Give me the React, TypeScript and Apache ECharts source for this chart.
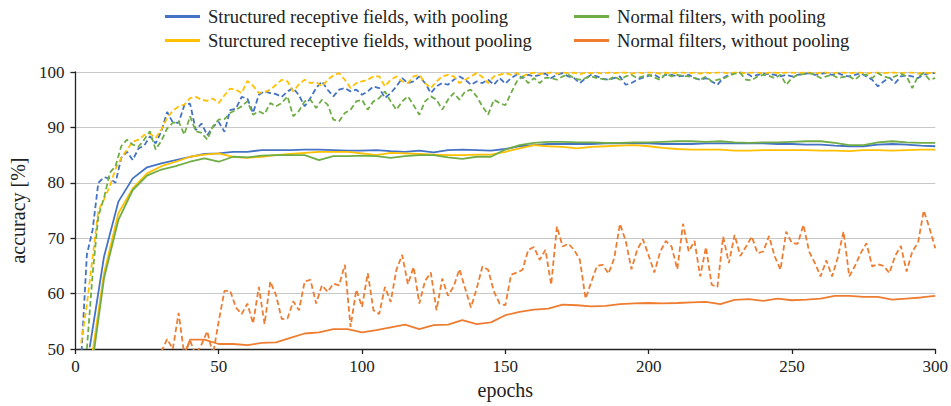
import React, { useEffect, useRef } from "react";
import * as echarts from "echarts";

// x positions: test accuracy every 5 epochs, train accuracy every 2 epochs
const testEpochs = [
  0, 5, 10, 15, 20, 25, 30, 35, 40, 45,
  50, 55, 60, 65, 70, 75, 80, 85, 90, 95,
  100, 105, 110, 115, 120, 125, 130, 135, 140, 145,
  150, 155, 160, 165, 170, 175, 180, 185, 190, 195,
  200, 205, 210, 215, 220, 225, 230, 235, 240, 245,
  250, 255, 260, 265, 270, 275, 280, 285, 290, 295,
  300,
];
const trainEpochs = Array.from({ length: 151 }, (_, i) => i * 2);

const legendNames = [
  "Structured receptive fields, with pooling",
  "Sturctured receptive fields, without pooling",
  "Normal filters, with pooling",
  "Normal filters, without pooling",
];

// solid lines (sampled every 5 epochs)
const blueSolid = [
  null, 50.3, 66.7, 76.6, 80.8, 82.8, 83.5, 84.1, 84.7, 85.2,
  85.3, 85.6, 85.6, 85.9, 85.9, 85.9, 86.0, 86.0, 85.9, 85.8,
  85.8, 85.9, 85.7, 85.6, 85.8, 85.5, 85.9, 86.0, 85.9, 85.8,
  86.1, 86.6, 86.8, 87.0, 87.0, 87.0, 87.0, 87.1, 87.1, 87.1,
  87.1, 87.0, 87.0, 87.0, 87.1, 87.1, 87.1, 87.1, 87.1, 87.0,
  87.0, 86.9, 86.9, 86.7, 86.6, 86.6, 86.9, 87.0, 86.9, 86.7,
  86.6,
];
const yellowSolid = [
  null, 46.0, 63.7, 74.5, 79.0, 81.7, 83.0, 83.8, 84.7, 85.1,
  85.3, 84.7, 84.5, 84.7, 85.0, 85.2, 85.4, 85.6, 85.6, 85.6,
  85.3, 85.0, 85.4, 85.3, 85.2, 85.1, 85.0, 85.0, 85.1, 85.1,
  85.6, 86.2, 86.8, 86.6, 86.5, 86.2, 86.5, 86.6, 86.7, 86.8,
  86.6, 86.3, 86.1, 86.0, 86.0, 86.0, 85.8, 85.8, 85.9, 85.9,
  85.9, 85.9, 85.8, 85.8, 85.7, 85.9, 85.9, 85.8, 85.9, 86.0,
  86.0,
];
const greenSolid = [
  null, 44.0, 62.8, 73.3, 78.7, 81.3, 82.4, 83.0, 83.8, 84.4,
  83.8, 84.7, 84.6, 84.9, 85.0, 85.0, 85.0, 84.1, 84.8, 84.8,
  84.9, 84.8, 84.5, 84.8, 85.0, 85.0, 84.6, 84.3, 84.7, 84.7,
  86.0, 86.8, 87.2, 87.4, 87.4, 87.3, 87.3, 87.2, 87.2, 87.3,
  87.3, 87.4, 87.5, 87.5, 87.4, 87.5, 87.3, 87.2, 87.3, 87.3,
  87.4, 87.5, 87.5, 87.2, 86.8, 86.8, 87.3, 87.5, 87.3, 87.2,
  87.2,
];
const orangeSolid = [
  null, null, null, null, null, null, null, 45.0, 51.7, 51.7,
  50.9, 50.9, 50.7, 51.1, 51.2, 52.0, 52.8, 53.0, 53.6, 53.6,
  53.0, 53.4, 53.9, 54.4, 53.6, 54.3, 54.4, 55.2, 54.5, 54.8,
  56.1, 56.7, 57.1, 57.3, 58.0, 57.9, 57.7, 57.8, 58.1, 58.25,
  58.3, 58.25, 58.3, 58.4, 58.5, 58.1, 58.85, 59.0, 58.7, 59.1,
  58.8, 58.9, 59.1, 59.6, 59.6, 59.4, 59.4, 58.9, 59.1, 59.3,
  59.6,
];

// dashed lines (sampled every 2 epochs)
const blueDashed = [
  null, 48.0, 67.0, 71.5, 80.0, 81.0, 80.8, 80.0, 84.5, 85.6,
  84.1, 86.2, 86.7, 88.4, 87.1, 89.3, 92.8, 90.9, 90.8, 94.0,
  94.3, 89.5, 90.7, 88.6, 90.1, 91.0, 89.2, 93.1, 93.4, 95.5,
  95.2, 92.6, 95.9, 96.5, 96.2, 96.0, 95.5, 96.5, 97.1, 95.8,
  93.8, 95.3, 97.1, 98.3, 96.8, 95.6, 96.8, 97.1, 96.5, 96.8,
  95.9, 96.5, 97.4, 97.1, 95.3, 96.2, 97.4, 98.9, 98.0, 98.3,
  99.2, 98.0, 96.2, 97.4, 98.0, 97.7, 98.6, 99.2, 98.6, 97.7,
  98.3, 98.0, 98.6, 97.7, 98.9, 97.9, 98.9, 99.5, 98.9, 99.5,
  99.2, 99.5, 99.7, 98.9, 99.5, 99.8, 99.2, 98.9, 98.0, 98.9,
  99.5, 99.2, 98.8, 98.6, 98.9, 99.2, 97.7, 98.0, 98.6, 99.0,
  99.3, 99.5, 98.9, 99.5, 99.5, 99.2, 99.3, 99.5, 98.9, 98.6,
  98.9, 98.3, 97.7, 98.9, 99.5, 99.8, 99.9, 99.8, 99.2, 99.5,
  99.7, 99.6, 99.5, 99.2, 99.5, 99.2, 99.5, 99.6, 99.8, 99.5,
  99.7, 99.8, 99.5, 99.8, 99.4, 99.2, 99.5, 99.8, 99.2, 98.6,
  97.4, 98.3, 99.0, 98.0, 99.2, 99.4, 99.2, 98.9, 99.5, 99.8,
  99.8,
];
const yellowDashed = [
  null, 51.0, 58.0, 66.5, 75.0, 77.0, 79.4, 82.5, 84.5, 86.0,
  87.4, 87.8, 88.6, 88.9, 88.1, 89.6, 91.7, 93.0, 93.8, 94.1,
  95.3, 95.5, 95.0, 94.8, 95.2, 94.4, 95.8, 97.0, 96.8, 96.2,
  98.4, 97.5, 96.2, 96.4, 96.8, 97.7, 98.6, 98.3, 96.5, 97.8,
  98.6, 98.0, 98.2, 97.4, 98.6, 99.4, 99.8, 98.6, 97.1, 98.0,
  98.3, 98.6, 99.2, 99.2, 97.4, 98.6, 99.2, 98.3, 98.0, 99.2,
  99.5, 98.0, 97.1, 98.3, 99.2, 99.5, 99.2, 98.0, 98.6, 99.2,
  99.8, 99.1, 98.0, 99.2, 99.5, 99.8, 99.5, 99.8, 99.2, 99.7,
  99.9, 99.6, 99.8, 99.9, 99.7, 99.9, 99.8, 99.9, 99.6, 99.9,
  99.8, 99.9, 99.7, 99.9, 99.8, 99.9, 99.9, 99.7, 99.9, 99.8,
  99.9, 99.9, 99.7, 99.9, 99.8, 99.9, 99.9, 99.8, 99.9, 99.7,
  99.9, 99.8, 99.9, 99.9, 99.8, 99.9, 99.9, 99.8, 99.9, 99.9,
  99.7, 99.9, 99.9, 99.8, 99.9, 99.9, 99.8, 99.9, 99.9, 99.7,
  99.9, 99.9, 99.8, 99.9, 99.9, 99.8, 99.9, 99.9, 99.7, 99.9,
  99.9, 99.8, 99.9, 99.9, 99.8, 99.9, 99.9, 99.7, 99.9, 99.8,
  99.9,
];
const greenDashed = [
  null, null, 50.0, 63.5, 74.0, 77.3, 81.8, 83.0, 86.6, 87.8,
  86.9, 86.5, 87.8, 89.3, 86.0, 87.6, 89.8, 90.8, 91.1, 88.7,
  92.0, 89.3, 89.0, 87.8, 90.2, 91.4, 91.5, 92.6, 93.2, 93.8,
  94.7, 92.3, 92.9, 92.4, 94.4, 93.8, 94.4, 95.6, 92.0, 93.0,
  94.7, 95.0, 93.5, 95.0, 94.1, 91.4, 91.1, 92.6, 93.2, 94.7,
  95.0, 93.2, 94.7, 95.3, 96.5, 94.7, 93.2, 94.7, 95.6, 94.0,
  92.3, 94.7, 95.6, 95.0, 93.2, 95.0, 96.2, 95.0, 96.5, 96.8,
  95.6, 93.8, 92.3, 95.0, 94.4, 94.0, 96.2, 98.3, 99.2, 98.0,
  98.9, 98.0, 99.0, 98.9, 98.6, 99.2, 99.5, 98.9, 98.6, 98.9,
  99.2, 98.9, 98.7, 98.6, 99.2, 98.6, 99.2, 99.5, 98.9, 99.2,
  99.5, 99.0, 98.6, 99.7, 99.2, 99.5, 99.3, 99.2, 98.9, 98.6,
  99.2, 98.3, 98.6, 98.8, 99.3, 99.7, 99.8, 98.6, 98.5, 99.2,
  99.5, 99.3, 98.9, 99.5, 97.7, 98.9, 99.5, 99.6, 99.8, 99.5,
  98.9, 99.2, 99.5, 98.9, 99.1, 99.2, 98.6, 99.5, 99.5, 98.9,
  99.8, 99.2, 98.9, 99.2, 99.7, 99.2, 97.1, 99.2, 99.8, 98.6,
  98.9,
];
const orangeDashed = [
  null, null, null, null, null, null, null, null, null, null,
  null, null, null, null, null, 49.5, 51.8, 50.0, 56.5, 49.0,
  51.5, 49.0, 50.8, 53.2, 49.0, 55.0, 60.5, 60.5, 57.5, 56.3,
  58.2, 54.6, 61.2, 54.5, 62.2, 59.7, 55.4, 55.5, 58.6, 57.0,
  62.2, 62.5, 58.2, 61.5, 60.3, 61.8, 61.5, 65.2, 54.0, 60.7,
  57.6, 63.7, 57.0, 56.3, 61.2, 58.5, 64.3, 67.0, 61.7, 64.8,
  58.2, 62.3, 63.8, 57.0, 62.7, 59.6, 61.3, 64.4, 60.9, 57.5,
  60.9, 64.9, 64.3, 60.4, 58.2, 57.9, 63.4, 63.8, 64.3, 67.9,
  68.4, 66.1, 67.9, 61.6, 72.1, 68.5, 69.0, 67.9, 66.1, 59.1,
  62.1, 65.0, 65.2, 63.6, 66.4, 72.6, 69.5, 64.4, 67.9, 69.8,
  66.9, 63.8, 67.5, 69.5, 68.5, 64.4, 72.6, 67.6, 69.5, 63.1,
  68.4, 61.6, 61.2, 70.3, 65.5, 70.6, 66.8, 68.5, 70.3, 67.3,
  67.6, 70.4, 66.7, 64.3, 71.2, 69.1, 69.0, 72.4, 67.6, 65.5,
  63.1, 66.0, 63.1, 66.5, 71.2, 63.1, 65.0, 67.3, 69.1, 64.9,
  65.3, 65.0, 63.7, 66.8, 68.6, 64.0, 67.6, 69.2, 75.0, 71.8,
  68.2,
];

const yTicks = [50, 60, 70, 80, 90, 100];
const xTicks = [0, 50, 100, 150, 200, 250, 300];

const colors = ["#4472C4", "#FFC000", "#70AD47", "#ED7D31"];
const FONT = "Liberation Serif";

function pairs(xs: number[], ys: (number | null)[]) {
  const out: number[][] = [];
  ys.forEach((v, i) => {
    if (v !== null && v !== undefined) out.push([xs[i], v]);
  });
  return out;
}

export default function App() {
  const ref = useRef<HTMLDivElement>(null);
  useEffect(() => {
    if (!ref.current) return;
    const chart = echarts.init(ref.current, null, { renderer: "svg" });
    const solids = [blueSolid, yellowSolid, greenSolid, orangeSolid];
    const dashes = [blueDashed, yellowDashed, greenDashed, orangeDashed];
    const series: any[] = [];
    for (let k = 0; k < 4; k++) {
      series.push({
        name: legendNames[k],
        type: "line",
        data: pairs(testEpochs, solids[k]),
        showSymbol: false,
        symbol: "none",
        color: colors[k],
        lineStyle: { color: colors[k], width: 1.8 },
        clip: true,
        z: 2,
      });
      series.push({
        name: legendNames[k] + " (train)",
        type: "line",
        data: pairs(trainEpochs, dashes[k]),
        showSymbol: false,
        symbol: "none",
        color: colors[k],
        lineStyle: { color: colors[k], width: 1.8, type: [5.5, 3] },
        clip: true,
        z: 2,
      });
    }
    const legendBase = {
      orient: "vertical",
      top: 2,
      icon: "rect",
      itemWidth: 35,
      itemHeight: 3,
      itemGap: 5,
      selectedMode: false,
      textStyle: {
        fontFamily: FONT,
        fontSize: 18.6,
        color: "#222",
        lineHeight: 18,
        padding: [0, 0, 0, 3],
      },
    };
    const tickLabel = {
      fontFamily: FONT,
      fontSize: 17,
      color: "#222",
    };
    chart.setOption({
      animation: false,
      backgroundColor: "#fff",
      textStyle: { fontFamily: FONT },
      grid: { left: 75, right: 15, top: 72, bottom: 57, containLabel: false },
      legend: [
        { ...legendBase, left: 160, data: [legendNames[0], legendNames[1]] },
        { ...legendBase, left: 569, data: [legendNames[2], legendNames[3]] },
      ],
      xAxis: {
        type: "value",
        min: xTicks[0],
        max: xTicks[xTicks.length - 1],
        interval: 50,
        name: "epochs",
        nameLocation: "middle",
        nameGap: 31,
        nameTextStyle: { fontFamily: FONT, fontSize: 20, color: "#222" },
        axisLine: { show: true, lineStyle: { color: "#222", width: 1.3 } },
        axisTick: { show: true, length: 5, lineStyle: { color: "#222", width: 1.3 } },
        axisLabel: { ...tickLabel, margin: 9 },
        splitLine: { show: false },
      },
      yAxis: {
        type: "value",
        min: yTicks[0],
        max: yTicks[yTicks.length - 1],
        interval: 10,
        name: "accuracy [%]",
        nameLocation: "middle",
        nameGap: 36,
        nameRotate: 90,
        nameTextStyle: { fontFamily: FONT, fontSize: 20, color: "#222" },
        axisLine: { show: true, lineStyle: { color: "#222", width: 1.3 } },
        axisTick: { show: true, length: 5, lineStyle: { color: "#222", width: 1.3 } },
        axisLabel: { ...tickLabel, margin: 11 },
        splitLine: { show: true, lineStyle: { color: "#c8c8c8", width: 1 } },
      },
      series,
    });
    return () => chart.dispose();
  }, []);
  return (
    <div
      ref={ref}
      style={{ position: "fixed", left: 0, top: 0, width: 951, height: 406 }}
    />
  );
}
